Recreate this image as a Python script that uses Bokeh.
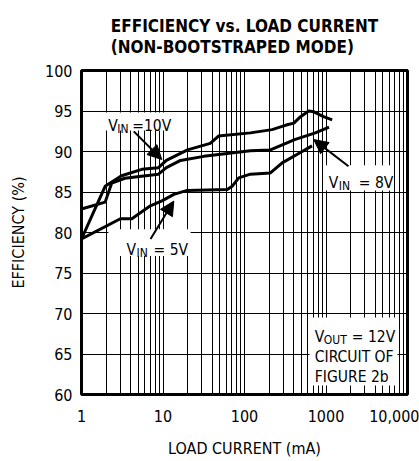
from bokeh.plotting import figure
from bokeh.models import (FixedTicker, Label, BoxAnnotation, Arrow, NormalHead,
                          Title, Range1d)
from bokeh.embed import file_html
from bokeh.resources import INLINE

# ---------------- data ----------------
load_10v = [1, 1.95, 3.1, 5.5, 8.8, 11, 20, 38, 48, 118, 218, 290, 334, 403, 487, 613, 710, 933, 1190]
eff_10v = [79.2, 85.7, 87.0, 87.8, 88.0, 88.9, 90.2, 91.0, 91.9, 92.3, 92.7, 93.1, 93.3, 93.5, 94.3, 95.0, 94.9, 94.3, 93.9]

load_8v = [1, 1.95, 2.35, 3.4, 8.8, 11, 16.4, 31.6, 118, 208, 420, 740, 1090]
eff_8v = [82.9, 83.75, 86.1, 86.7, 87.2, 88.0, 88.9, 89.4, 90.1, 90.2, 91.5, 92.3, 93.0]

load_5v = [1, 3.0, 4.15, 7.0, 9.7, 13.6, 19.8, 61.5, 70.5, 85, 118, 208, 290, 510, 673]
eff_5v = [79.2, 81.7, 81.7, 83.3, 83.9, 84.7, 85.2, 85.3, 85.7, 86.75, 87.2, 87.35, 88.6, 90.0, 90.7]

x_ticks = [1, 10, 100, 1000, 10000]
x_tick_labels = ["1", "10", "100", "1000", "10,000"]
x_minor = [m * d for d in [1, 10, 100, 1000] for m in range(2, 10)]
y_ticks = [60, 65, 70, 75, 80, 85, 90, 95, 100]

title_text = "EFFICIENCY vs. LOAD CURRENT\n(NON-BOOTSTRAPED MODE)"
x_label = "LOAD CURRENT (mA)"
y_label = "EFFICIENCY (%)"

FONT = "DejaVu Sans Condensed"

# ---------------- figure ----------------
p = figure(width=419, height=461, x_axis_type="log",
           x_range=Range1d(1, 10000), y_range=Range1d(60, 100),
           output_backend="svg", toolbar_location=None,
           min_border_left=81, min_border_right=12,
           min_border_top=69, min_border_bottom=67)
p.background_fill_color = "white"
p.border_fill_color = "white"
p.outline_line_color = "black"
p.outline_line_width = 3

p.title = Title(text=title_text, align="center", text_font=FONT,
                text_font_size="17px", text_font_style="bold",
                text_color="black", text_line_height=1.05, standoff=27)

p.xaxis.ticker = FixedTicker(ticks=x_ticks, minor_ticks=x_minor)
p.xaxis.major_label_overrides = {t: s for t, s in zip(x_ticks, x_tick_labels)}
p.yaxis.ticker = FixedTicker(ticks=y_ticks)

for ax in (p.xaxis[0], p.yaxis[0]):
    ax.axis_line_color = None
    ax.major_tick_line_color = None
    ax.minor_tick_line_color = None
    ax.major_tick_out = 0
    ax.major_tick_in = 0
    ax.minor_tick_out = 0
    ax.minor_tick_in = 0
    ax.major_label_text_font = FONT
    ax.major_label_text_font_size = "16px"
    ax.major_label_text_color = "black"
    ax.axis_label_text_font = FONT
    ax.axis_label_text_font_size = "16px"
    ax.axis_label_text_font_style = "normal"
    ax.axis_label_text_color = "black"

p.xaxis.axis_label = x_label
p.yaxis.axis_label = y_label
p.xaxis.major_label_standoff = 15
p.xaxis.axis_label_standoff = 14
p.yaxis.major_label_standoff = 9
p.yaxis.axis_label_standoff = 14

p.xgrid.grid_line_color = "black"
p.xgrid.grid_line_width = 1
p.xgrid.minor_grid_line_color = "black"
p.xgrid.minor_grid_line_width = 1
p.ygrid.grid_line_color = "black"
p.ygrid.grid_line_width = 1

# ---------------- curves ----------------
for xs, ys in ((load_10v, eff_10v), (load_8v, eff_8v), (load_5v, eff_5v)):
    p.line(xs, ys, line_color="black", line_width=3, line_join="round")

# ---------------- annotation boxes (white, hide grid) ----------------
boxes = [
    (1.86, 13.1, 92.6, 94.8),      # V_IN =10V
    (959, 6730, 85.2, 88.3),       # V_IN = 8V
    (2.14, 21.8, 77.1, 80.4),      # V_IN = 5V
    (628, 7540, 61.1, 69.5),       # V_OUT box
]
for l, r, b, t in boxes:
    p.add_layout(BoxAnnotation(left=l, right=r, bottom=b, top=t,
                               fill_color="white", fill_alpha=1.0,
                               line_color=None))


def lab(x, y, text, size="15.5px", xo=0, yo=0):
    p.add_layout(Label(x=x, y=y, text=text, x_offset=xo, y_offset=yo,
                       text_font=FONT, text_font_size=size,
                       text_color="black", text_baseline="alphabetic",
                       text_align="left"))


SUB = "12px"
# V_IN = 10V
lab(2.13, 93.1, "V")
lab(2.13, 93.1, "IN", SUB, xo=9, yo=-3)
lab(2.13, 93.1, "=10V", xo=24)
# V_IN = 8V
lab(1082, 86.13, "V")
lab(1082, 86.13, "IN", SUB, xo=10, yo=-3)
lab(1082, 86.13, "= 8V", xo=30)
# V_IN = 5V
lab(3.57, 77.85, "V")
lab(3.57, 77.85, "IN", SUB, xo=10, yo=-3)
lab(3.57, 77.85, "= 5V", xo=27)
# V_OUT box
lab(729, 67.14, "V")
lab(729, 67.14, "OUT", SUB, xo=9, yo=-3)
lab(729, 67.14, "= 12V", xo=37)
lab(729, 64.68, "CIRCUIT OF")
lab(729, 62.13, "FIGURE 2b")

# ---------------- arrows ----------------
arrows = [
    (4.38, 92.49, 9.67, 89.01),
    (1888, 88.18, 708, 91.47),
    (7.03, 79.2, 13.57, 83.88),
]
for xs_, ys_, xe, ye in arrows:
    p.add_layout(Arrow(end=NormalHead(size=14, fill_color="black",
                                      line_color="black"),
                       x_start=xs_, y_start=ys_, x_end=xe, y_end=ye,
                       line_color="black", line_width=2))

open("out.html", "w").write(file_html(p, INLINE))
